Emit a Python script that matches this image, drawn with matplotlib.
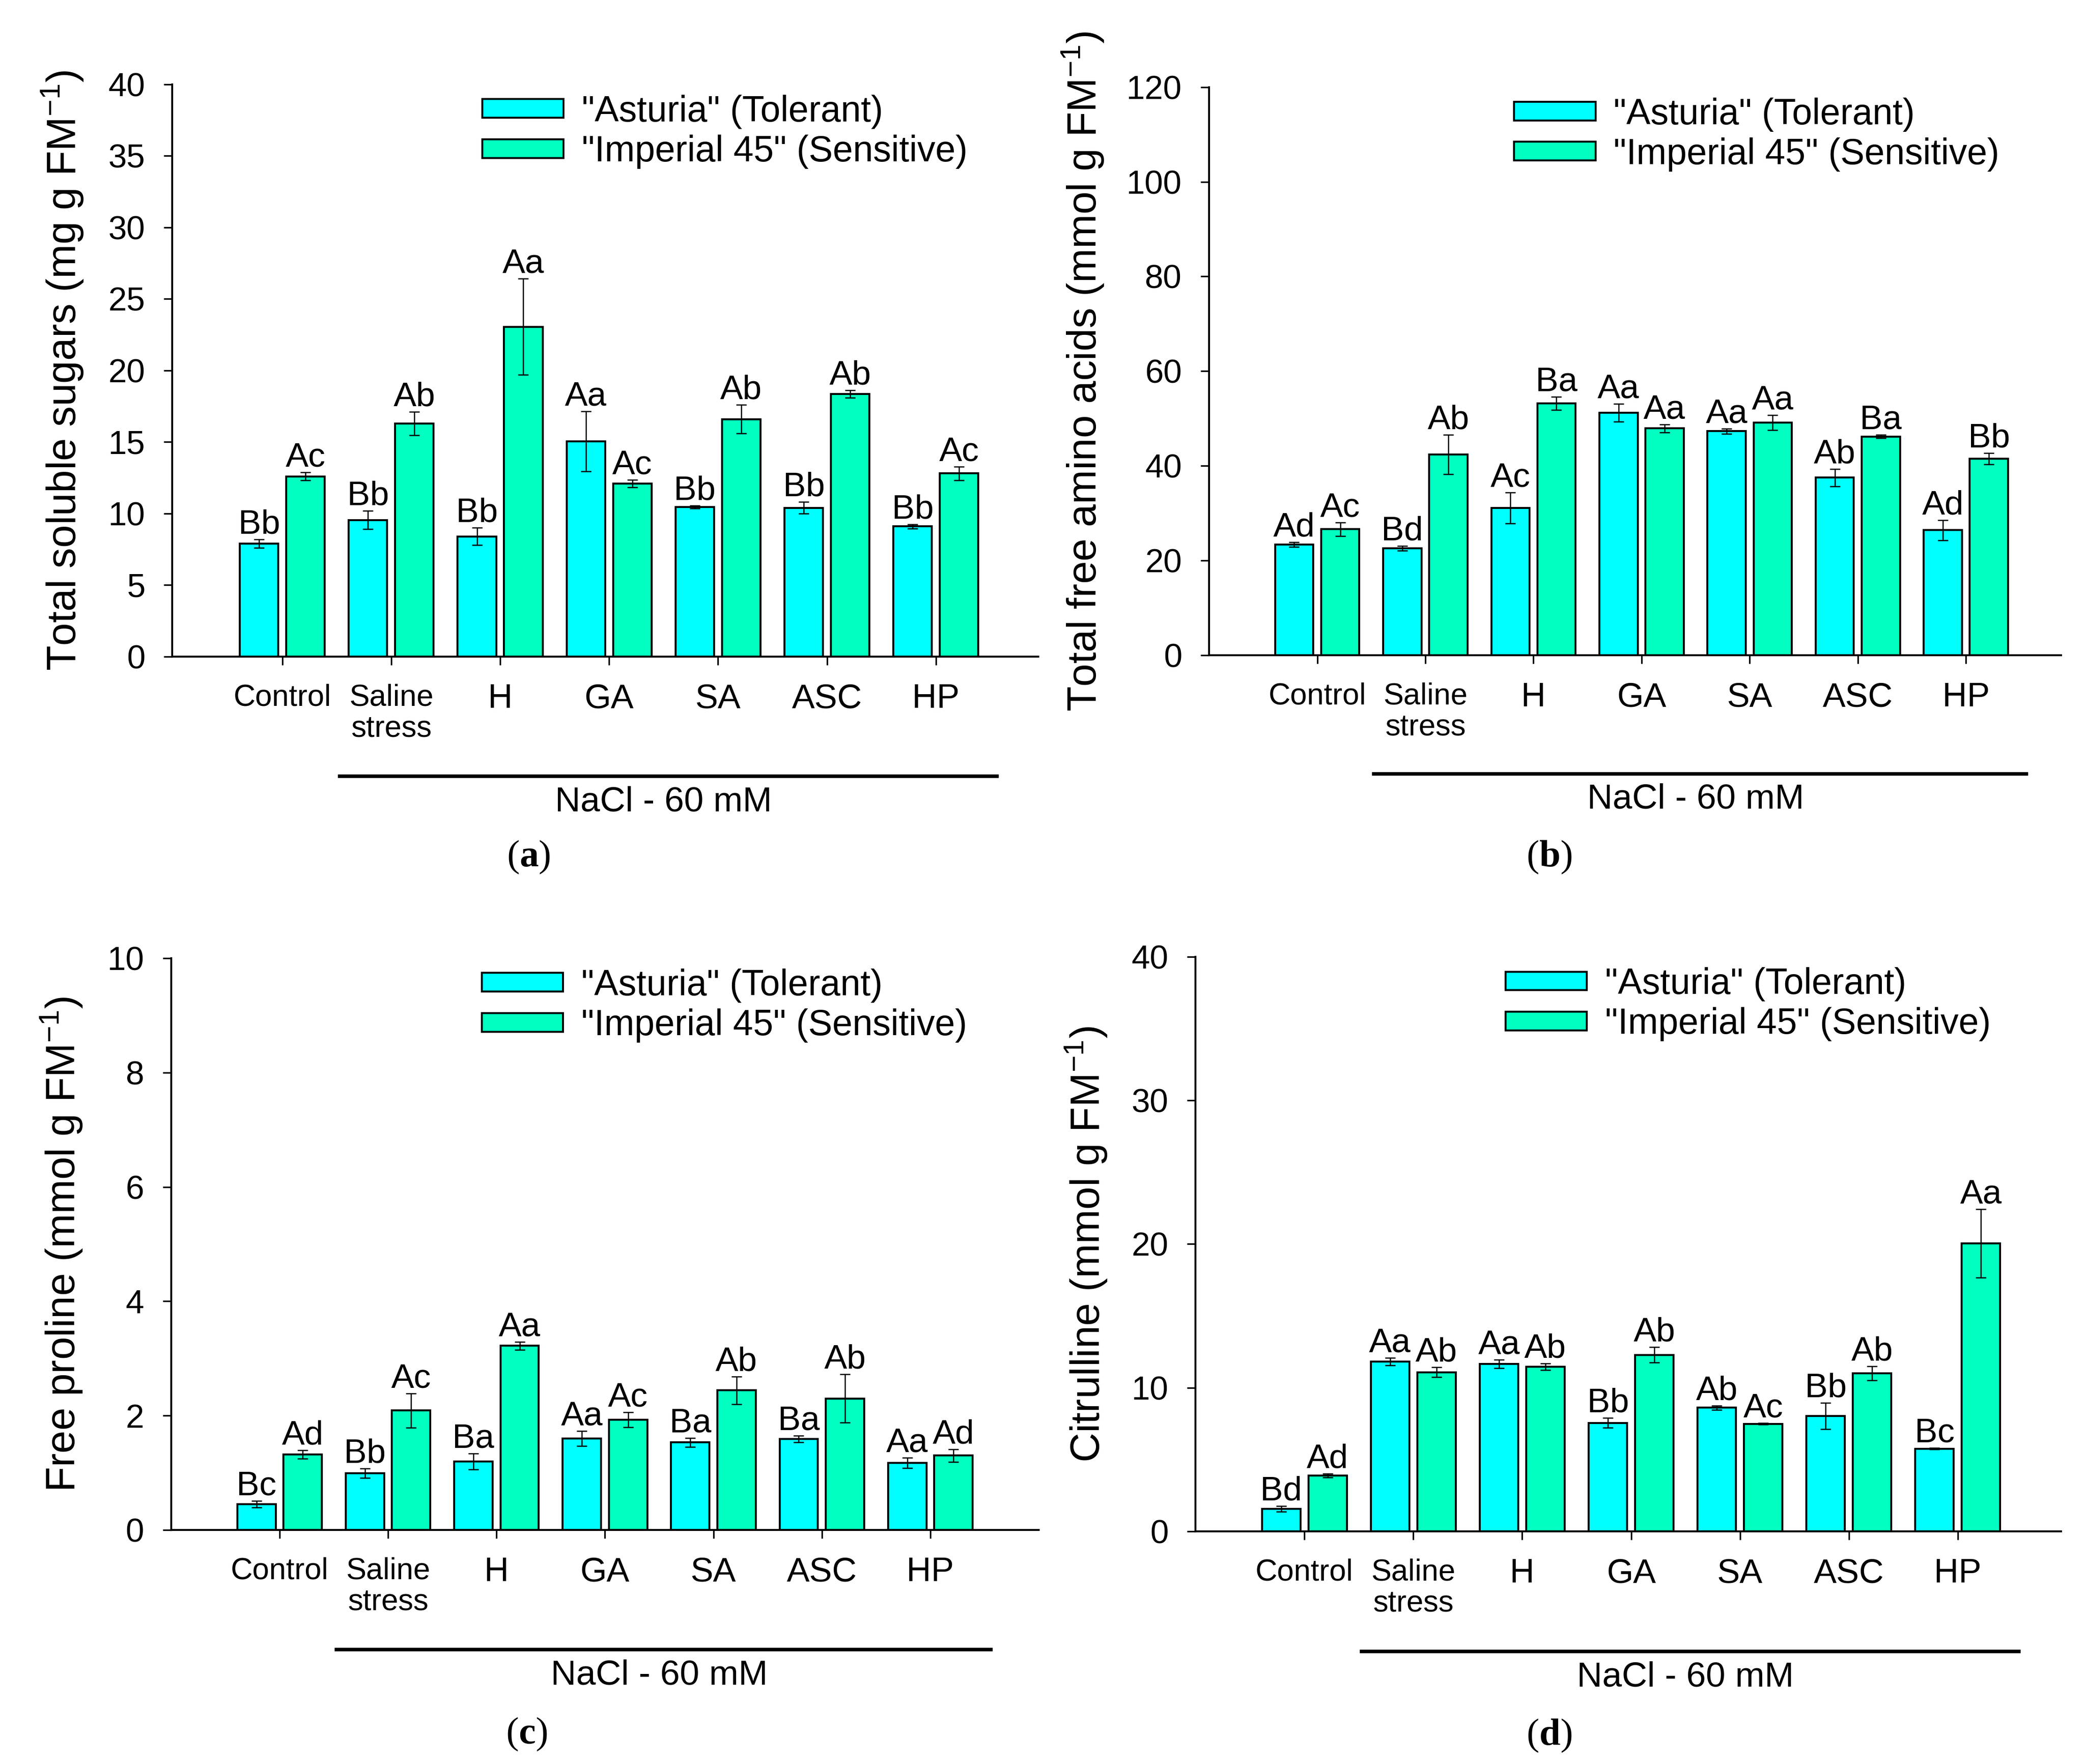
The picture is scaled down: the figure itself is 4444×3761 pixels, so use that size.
import numpy as np
import matplotlib
matplotlib.use('Agg')
import matplotlib.pyplot as plt
from matplotlib.patches import Patch

plt.rcParams['font.family'] = ['Liberation Sans', 'DejaVu Sans']
plt.rcParams['mathtext.fontset'] = 'custom'
plt.rcParams['mathtext.rm'] = 'Liberation Sans'
plt.rcParams['mathtext.bf'] = 'Liberation Serif:bold'

# treatments
kategoriler = ['Control', 'Saline\nstress', 'H', 'GA', 'SA', 'ASC', 'HP']
seriler = ['"Asturia" (Tolerant)', '"Imperial 45" (Sensitive)']

# (a) total soluble sugars
seker_ast = [7.9, 9.55, 8.4, 15.05, 10.45, 10.4, 9.1]
seker_ast_hata = [0.3, 0.63, 0.6, 2.1, 0.1, 0.4, 0.15]
seker_imp = [12.6, 16.3, 23.05, 12.1, 16.6, 18.35, 12.8]
seker_imp_hata = [0.27, 0.82, 3.36, 0.27, 1.0, 0.27, 0.47]
seker_harf_ast = ['Bb', 'Bb', 'Bb', 'Aa', 'Bb', 'Bb', 'Bb']
seker_harf_imp = ['Ac', 'Ab', 'Aa', 'Ac', 'Ab', 'Ab', 'Ac']

# (b) total free amino acids
amino_ast = [23.4, 22.6, 31.1, 51.2, 47.3, 37.5, 26.4]
amino_ast_hata = [0.5, 0.5, 3.3, 1.9, 0.5, 1.8, 2.1]
amino_imp = [26.6, 42.4, 53.2, 47.9, 49.1, 46.2, 41.5]
amino_imp_hata = [1.4, 4.2, 1.4, 0.8, 1.6, 0.35, 1.2]
amino_harf_ast = ['Ad', 'Bd', 'Ac', 'Aa', 'Aa', 'Ab', 'Ad']
amino_harf_imp = ['Ac', 'Ab', 'Ba', 'Aa', 'Aa', 'Ba', 'Bb']

# (c) free proline
prolin_ast = [0.45, 0.99, 1.2, 1.6, 1.53, 1.59, 1.17]
prolin_ast_hata = [0.06, 0.08, 0.14, 0.13, 0.08, 0.06, 0.09]
prolin_imp = [1.32, 2.09, 3.22, 1.93, 2.44, 2.3, 1.3]
prolin_imp_hata = [0.07, 0.3, 0.07, 0.13, 0.24, 0.42, 0.11]
prolin_harf_ast = ['Bc', 'Bb', 'Ba', 'Aa', 'Ba', 'Ba', 'Aa']
prolin_harf_imp = ['Ad', 'Ac', 'Aa', 'Ac', 'Ab', 'Ab', 'Ad']

# (d) citrulline
sitrulin_ast = [1.57, 11.82, 11.66, 7.55, 8.61, 8.02, 5.75]
sitrulin_ast_hata = [0.2, 0.27, 0.3, 0.35, 0.15, 0.92, 0.05]
sitrulin_imp = [3.87, 11.08, 11.47, 12.29, 7.48, 11.0, 20.04]
sitrulin_imp_hata = [0.13, 0.35, 0.23, 0.55, 0.05, 0.5, 2.39]
sitrulin_harf_ast = ['Bd', 'Aa', 'Aa', 'Bb', 'Ab', 'Bb', 'Bc']
sitrulin_harf_imp = ['Ad', 'Ab', 'Ab', 'Ab', 'Ac', 'Ab', 'Aa']

renk_ast = '#00FFFF'
renk_imp = '#00FFC0'

fig = plt.figure(figsize=(4444 / 300, 3761 / 300), dpi=300)

paneller = [
    # eksen konumu, degerler, hatalar, harfler, y ekseni, etiket, panel harfi, x siniri
    ([0.0826, 0.6278, 0.4154, 0.3244], seker_ast, seker_ast_hata, seker_imp, seker_imp_hata,
     seker_harf_ast, seker_harf_imp, (0, 40), 5, 'Total soluble sugars (mg g FM$^{-1}$)', 'a', (-0.01, 7.94)),
    ([0.5799, 0.6286, 0.4086, 0.3220], amino_ast, amino_ast_hata, amino_imp, amino_imp_hata,
     amino_harf_ast, amino_harf_imp, (0, 120), 20, 'Total free amino acids (mmol g FM$^{-1}$)', 'b', (0.0, 7.88)),
    ([0.0821, 0.1327, 0.4161, 0.3241], prolin_ast, prolin_ast_hata, prolin_imp, prolin_imp_hata,
     prolin_harf_ast, prolin_harf_imp, (0, 10), 2, 'Free proline (mmol g FM$^{-1}$)', 'c', (0.0, 8.0)),
    ([0.5734, 0.1319, 0.4152, 0.3257], sitrulin_ast, sitrulin_ast_hata, sitrulin_imp, sitrulin_imp_hata,
     sitrulin_harf_ast, sitrulin_harf_imp, (0, 40), 10, 'Citrulline (mmol g FM$^{-1}$)', 'd', (0.0, 7.95)),
]

panel_harf_x = [0.2534, 0.743, 0.2525, 0.743]
panel_harf_y = [0.509, 0.509, 0.0117, 0.011]

x = np.arange(1, len(kategoriler) + 1)
gen = 0.354
kay = 0.213

for i, (konum, a_deg, a_hata, i_deg, i_hata, a_harf, i_harf, ylim, adim, ylabel, harf, xlim) in enumerate(paneller):
    ax = fig.add_axes(konum)
    ax.bar(x - kay, a_deg, gen, color=renk_ast, edgecolor='black', linewidth=1.0, zorder=2)
    ax.bar(x + kay, i_deg, gen, color=renk_imp, edgecolor='black', linewidth=1.0, zorder=2)
    ax.errorbar(x - kay, a_deg, yerr=a_hata, fmt='none', ecolor='black', elinewidth=0.6,
                capsize=2.6, capthick=0.6, zorder=3)
    ax.errorbar(x + kay, i_deg, yerr=i_hata, fmt='none', ecolor='black', elinewidth=0.6,
                capsize=2.6, capthick=0.6, zorder=3)

    for xi, v, e, t in zip(x - kay, a_deg, a_hata, a_harf):
        ax.annotate(t, (xi, v + e), xytext=(0, 3), textcoords='offset points',
                    ha='center', va='baseline', fontsize=17.5)
    for xi, v, e, t in zip(x + kay, i_deg, i_hata, i_harf):
        ax.annotate(t, (xi, v + e), xytext=(0, 3), textcoords='offset points',
                    ha='center', va='baseline', fontsize=17.5)

    ax.set_xlim(*xlim)
    ax.set_ylim(*ylim)
    ax.set_yticks(np.arange(ylim[0], ylim[1] + adim / 2, adim))
    ax.set_xticks(x)
    ax.set_xticklabels(kategoriler)
    for j, lbl in enumerate(ax.get_xticklabels()):
        lbl.set_fontsize(15.5 if j < 2 else 17.5)
        lbl.set_linespacing(1.13)
    ax.tick_params(axis='y', labelsize=17, length=4.4, width=0.8, pad=9.5, direction='out')
    ax.tick_params(axis='x', length=4.3, width=0.8, pad=9.5, direction='out')
    for s in ['top', 'right']:
        ax.spines[s].set_visible(False)
    for s in ['left', 'bottom']:
        ax.spines[s].set_linewidth(1.0)

    ax.set_ylabel(ylabel, fontsize=21)
    ax.yaxis.set_label_coords(-0.10 if i != 1 else -0.121, 0.5)

    # NaCl cizgisi
    ax.plot([1.525, 7.56], [-0.209, -0.209], color='black', lw=1.8,
            transform=ax.get_xaxis_transform(), clip_on=False)
    ax.text(4.5, -0.27, 'NaCl - 60 mM', transform=ax.get_xaxis_transform(),
            ha='center', va='baseline', fontsize=18)

    tutamac = [Patch(facecolor=renk_ast, edgecolor='black', linewidth=1.0),
               Patch(facecolor=renk_imp, edgecolor='black', linewidth=1.0)]
    ax.legend(tutamac, seriler, loc='upper left', bbox_to_anchor=(0.358, 0.982),
              frameon=False, fontsize=18.5, handlelength=2.25, handleheight=0.42,
              handletextpad=0.5, labelspacing=0.16, borderpad=0, borderaxespad=0)

    fig.text(panel_harf_x[i], panel_harf_y[i], r'($\mathbf{' + harf + '}$)',
             ha='center', va='baseline', fontsize=19.5, family='Liberation Serif')

fig.savefig('out.png', dpi=300)
